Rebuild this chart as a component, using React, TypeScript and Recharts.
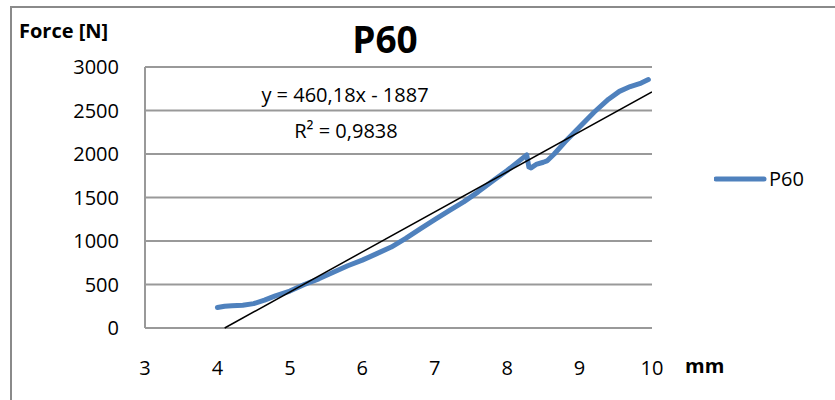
import React from "react";
import {
  ComposedChart,
  Line,
  XAxis,
  YAxis,
  CartesianGrid,
  Legend,
  Customized,
} from "recharts";

// ---- data ----
const dispMm = [
  4.0, 4.1, 4.2, 4.35, 4.5, 4.65, 4.8, 5.0, 5.2, 5.4, 5.6, 5.8, 6.0, 6.2, 6.4,
  6.6, 6.8, 7.0, 7.2, 7.4, 7.6, 7.8, 8.0, 8.15, 8.27, 8.3, 8.33, 8.4, 8.5, 8.55,
  8.65, 8.8, 9.0, 9.2, 9.4, 9.55, 9.7, 9.85, 9.95,
];
const forceN = [
  235, 250, 257, 262, 280, 320, 370, 425, 500, 565, 640, 715, 780, 855, 930,
  1030, 1140, 1245, 1350, 1450, 1565, 1690, 1810, 1910, 1990, 1850, 1840, 1880,
  1905, 1920, 2000, 2140, 2310, 2480, 2630, 2720, 2775, 2815, 2855,
];
// linear trendline y = 460,18x - 1887 (endpoints, clipped at y = 0)
const trendX = [4.1, 10];
const trendY = [0, 2715];

const xTicks = [3, 4, 5, 6, 7, 8, 9, 10];
const yTicks = [0, 500, 1000, 1500, 2000, 2500, 3000];

const seriesName = "P60";
const titleText = "P60";
const yLabel = "Force [N]";
const xLabel = "mm";
const eqText = "y = 460,18x - 1887";
const r2Text = "R² = 0,9838";

const seriesData = dispMm.map((x, i) => ({ x, y: forceN[i] }));
const trendData = trendX.map((x, i) => ({ x, y: trendY[i] }));

const FONT = "'Open Sans', sans-serif";
const BLUE = "#4F81BD";

const LegendContent = () => (
  <div style={{ display: "flex", alignItems: "center", fontFamily: FONT }}>
    <svg width={56} height={12}>
      <line x1={2} y1={6} x2={50} y2={6} stroke={BLUE} strokeWidth={5} strokeLinecap="round" />
    </svg>
    <span style={{ fontSize: 20, color: "#000", marginLeft: -1 }}>{seriesName}</span>
  </div>
);

const Texts = () => (
  <g fontFamily={FONT} fill="#000">
    <text x={385} y={53} fontSize={37} fontWeight="bold" textAnchor="middle">
      {titleText}
    </text>
    <text x={19} y={38} fontSize={20} fontWeight="bold">
      {yLabel}
    </text>
    <text x={685} y={373} fontSize={20} fontWeight="bold">
      {xLabel}
    </text>
    <text x={345} y={102} fontSize={20} textAnchor="middle">
      {eqText}
    </text>
    <text x={346} y={138} fontSize={20} textAnchor="middle">
      {r2Text}
    </text>
  </g>
);

export default function App() {
  return (
    <div style={{ position: "absolute", left: 0, top: 0, width: 835, height: 400, background: "#fff", fontFamily: FONT }}>
      <div
        style={{
          position: "absolute",
          left: 10,
          top: 6,
          width: 830,
          height: 400,
          borderLeft: "2px solid #8a8a8a",
          borderTop: "2px solid #8a8a8a",
          boxSizing: "border-box",
        }}
      />
      <ComposedChart
        width={835}
        height={400}
        margin={{ top: 67, right: 183, bottom: 32, left: 85 }}
        style={{ position: "absolute", left: 0, top: 0 }}
      >
        <CartesianGrid vertical={false} stroke="#999" strokeWidth={2} />
        <XAxis
          type="number"
          dataKey="x"
          domain={[3, 10]}
          ticks={xTicks}
          allowDataOverflow
          axisLine={false}
          tickLine={false}
          tickSize={0}
          tickMargin={33}
          height={40}
          tick={{ fontSize: 20, fill: "#000", fontFamily: FONT }}
        />
        <YAxis
          type="number"
          domain={[0, 3000]}
          ticks={yTicks}
          width={60}
          axisLine={{ stroke: "#999", strokeWidth: 2 }}
          tickLine={false}
          tickSize={0}
          tickMargin={26}
          tick={{ fontSize: 20, fill: "#000", fontFamily: FONT }}
        />
        <Line
          data={seriesData}
          dataKey="y"
          name={seriesName}
          type="linear"
          stroke={BLUE}
          strokeWidth={5}
          strokeLinejoin="round"
          strokeLinecap="round"
          dot={false}
          isAnimationActive={false}
        />
        <Line
          data={trendData}
          dataKey="y"
          name="trend"
          type="linear"
          stroke="#000"
          strokeWidth={1.5}
          dot={false}
          legendType="none"
          isAnimationActive={false}
        />
        <Legend
          layout="horizontal"
          align="center"
          verticalAlign="middle"
          content={<LegendContent />}
          wrapperStyle={{ position: "absolute", left: 714, top: 165, width: 110 }}
        />
        <Customized component={<Texts />} />
      </ComposedChart>
    </div>
  );
}
